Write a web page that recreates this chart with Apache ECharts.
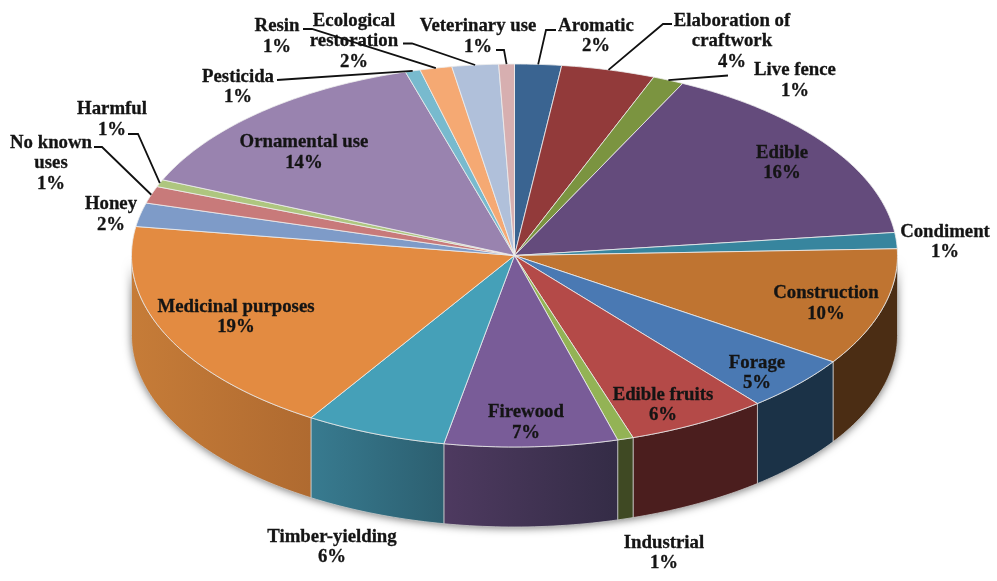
<!DOCTYPE html>
<html>
<head>
<meta charset="utf-8">
<style>html,body{margin:0;padding:0;background:#fff}#main{width:997px;height:581px}</style>
<script src="https://cdn.jsdelivr.net/npm/echarts@6/dist/echarts.min.js"></script>
</head>
<body>
<div id="main"></div>
<script>
// Uses of plant species, share of records in percent, clockwise from twelve o'clock.
const categories = ['Aromatic', 'Elaboration of\ncraftwork', 'Live fence', 'Edible', 'Condiment',
  'Construction', 'Forage', 'Edible fruits', 'Industrial', 'Firewood', 'Timber-yielding',
  'Medicinal purposes', 'Honey', 'No known\nuses', 'Harmful', 'Ornamental use', 'Pesticida',
  'Resin', 'Ecological\nrestoration', 'Veterinary use'];
const shares = [1.97, 3.96, 1.31, 15.86, 1.36, 9.94, 4.7, 5.93, 0.67, 7.3, 5.97, 18.52, 2.0, 1.44,
  0.61, 13.95, 0.63, 1.35, 1.96, 0.66];

// Disc geometry
const CX = 514.5, CY = 255.5, RX = 383, RY = 191.5, DEPTH = 80;

const topColors = ['#3A6491', '#923A3A', '#7B9440', '#644B7C', '#37859E', '#BF7431', '#4A79B3',
  '#B44A48', '#93B355', '#795C98', '#45A0B8', '#E38B41', '#7E9BC8', '#C87A7A', '#AEC67F', '#9983AF',
  '#78BACE', '#F5A973', '#B0C0DA', '#D7AFB0'];
// Wall gradient stops, left to right
const wallColors = {
  4: ['#2A6375', '#2A6375'], 5: ['#4B2D14', '#4B2D14'], 6: ['#1B3247', '#1B3247'],
  7: ['#4B1E1E', '#4B1E1E'], 8: ['#3F4923', '#3F4923'], 9: ['#4E3A60', '#342C46'],
  10: ['#387B90', '#2C5F70'], 11: ['#C67C38', '#AF6A30']
};

// Label centres and leader-line elbows
const labelAt = [[596, 36], [732, 41.5], [795, 80.5], [782, 163], [945, 242], [826, 303.5], [757, 373],
  [663, 405], [664, 553], [526, 422.5], [332, 547], [236, 317], [111, 214.5], [51, 163.5], [112, 119.5],
  [304, 152.5], [238, 87], [277, 36.5], [354, 41.5], [478, 36.5]];
const leaders = {
  0: [[546, 30], [556, 30]], 1: [[663, 24], [672, 24]], 2: [[728, 75.5]],
  13: [[102, 147], [94, 147]], 14: [[138, 134], [128, 134]], 16: [[277, 80]],
  17: [[312, 29], [303, 29]], 18: [[412, 43.5], [403, 43.5]], 19: [[504, 50], [496, 50]]
};

const total = shares.reduce((a, b) => a + b, 0);
const DEG = Math.PI / 180;
const starts = [];
shares.reduce((acc, v, i) => { starts[i] = acc; return acc + v; }, 0);

const toAngle = s => s / total * 360;
const rimPoint = (deg, dy) => [CX + RX * Math.sin(deg * DEG), CY - RY * Math.cos(deg * DEG) + (dy || 0)];

function arcPoints(a0, a1, dy) {
  const pts = [], n = Math.max(2, Math.ceil(Math.abs(a1 - a0)));
  for (let k = 0; k <= n; k++) pts.push(rimPoint(a0 + (a1 - a0) * k / n, dy));
  return pts;
}

function sliceSpan(i, value) {
  const a0 = toAngle(starts[i]);
  return [a0, a0 + toAngle(value)];
}

function renderShadow() {
  const points = arcPoints(90, 270, 0).concat(arcPoints(270, 90, DEPTH));
  return { type: 'polygon', shape: { points }, style: { fill: '#9a9a9a', shadowBlur: 9, shadowColor: 'rgba(0,0,0,0.55)', shadowOffsetY: 1 } };
}

function renderWall(params, api) {
  const i = params.dataIndex;
  const [a0, a1] = sliceSpan(i, api.value(0));
  const lo = Math.max(a0, 90), hi = Math.min(a1, 270);
  if (hi <= lo) return null;
  const points = arcPoints(lo, hi, 0).concat(arcPoints(hi, lo, DEPTH));
  const shade = wallColors[i] || ['#555', '#555'];
  const fill = new echarts.graphic.LinearGradient(0, 0, 1, 0, [
    { offset: 0, color: shade[0] },
    { offset: 1, color: shade[1] }
  ]);
  return { type: 'polygon', shape: { points }, style: { fill, stroke: 'rgba(205,205,205,0.75)', lineWidth: 1 } };
}

function renderTop(params, api) {
  const i = params.dataIndex;
  const [a0, a1] = sliceSpan(i, api.value(0));
  const points = [[CX, CY]].concat(arcPoints(a0, a1, 0));
  return { type: 'polygon', shape: { points }, style: { fill: topColors[i], stroke: 'rgba(238,238,238,0.8)', lineWidth: 1 } };
}

function renderLabel(params, api) {
  const i = params.dataIndex;
  const value = api.value(0);
  const [a0, a1] = sliceSpan(i, value);
  const children = [];
  if (leaders[i]) {
    const anchor = rimPoint((a0 + a1) / 2, 0);
    children.push({ type: 'polyline', shape: { points: [anchor].concat(leaders[i]) },
      style: { fill: 'none', stroke: '#111', lineWidth: 1.8 } });
  }
  children.push({ type: 'text', style: {
    x: labelAt[i][0], y: labelAt[i][1],
    text: categories[i] + '\n' + Math.round(value) + '%',
    align: 'center', verticalAlign: 'middle', lineHeight: 20.5,
    fontFamily: '"Liberation Serif", serif', fontWeight: 'bold', fontSize: 18.8,
    fill: '#141414', stroke: '#141414', lineWidth: 0.3
  } });
  return { type: 'group', children };
}

const rows = shares.map(v => [v]);
const chart = echarts.init(document.getElementById('main'), null, { renderer: 'canvas' });
chart.setOption({
  animation: false,
  backgroundColor: '#fff',
  series: [
    { type: 'custom', coordinateSystem: 'none', silent: true, z: 1, data: [[1]], renderItem: renderShadow },
    { type: 'custom', coordinateSystem: 'none', silent: true, z: 2, data: rows, renderItem: renderWall },
    { type: 'custom', coordinateSystem: 'none', silent: true, z: 3, data: rows, renderItem: renderTop },
    { type: 'custom', coordinateSystem: 'none', silent: true, z: 4, data: rows, renderItem: renderLabel }
  ]
});
</script>
</body>
</html>
